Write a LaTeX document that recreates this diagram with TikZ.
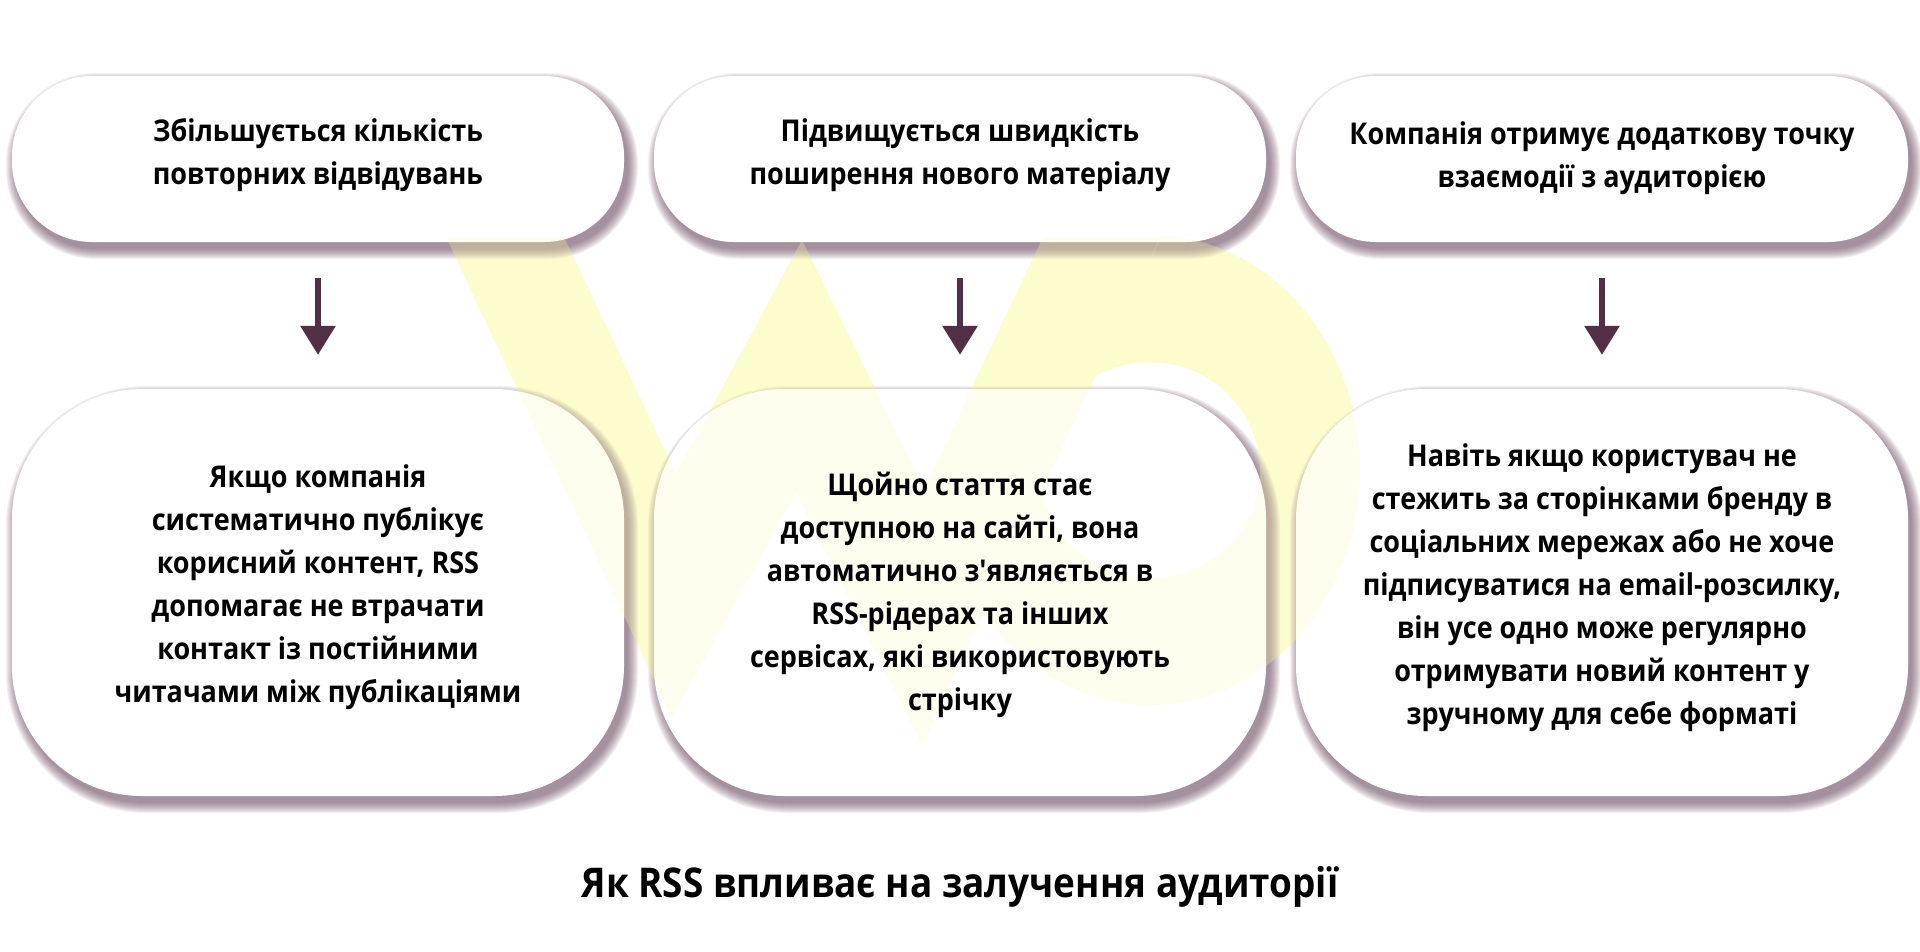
\documentclass[tikz,border=0pt]{standalone}
\usepackage{fontspec}
\setmainfont{Open Sans}[FakeStretch=0.9, Ligatures=TeXOff]
\usetikzlibrary{arrows.meta}
\definecolor{wm}{RGB}{253,252,205}
\definecolor{arrowc}{RGB}{82,47,68}
\definecolor{shadowc}{RGB}{105,70,92}
\newcommand\WaterMark[1]{%
  \fill[wm,#1] (446,237) -- (564,237) -- (676,474) -- (802,240) -- (924,489) -- (1043,237) -- (1161,237) -- (922,745) -- (796,493) -- (672,718) -- cycle;
  \begin{scope}
    \clip (1272,0) -- (1920,0) -- (1920,951) -- (825,951) -- cycle;
    \fill[wm,even odd rule,#1] (1150,470) ellipse [x radius=210, y radius=235] (1150,470) ellipse [x radius=110, y radius=108];
  \end{scope}}
\newcommand\BoxShadow[5]{%
  \foreach \k in {0,...,10}{%
    \pgfmathsetmacro\rr{#5+\k}%
    \fill[shadowc, fill opacity=0.075, rounded corners=\rr pt] ({#1+4-\k},{#2+7-\k}) rectangle ({#3+4+\k},{#4+7+\k});
  }}
\tikzset{
  boxbase/.style={rectangle, fill=white, inner sep=0pt, minimum width=612pt},
  topbox/.style={boxbase, rounded corners=80pt, minimum height=166pt},
  botbox/.style={boxbase, rounded corners=130pt, minimum height=407pt},
  txt/.style={align=center, font=\fontsize{30}{43}\selectfont\bfseries, text=black, inner sep=0pt},
  arr/.style={draw=arrowc, fill=arrowc, line width=6pt, -{Triangle[length=29pt,width=34pt]}, shorten <=36pt, shorten >=34pt}
}
\begin{document}
\begin{tikzpicture}[x=1pt,y=-1pt]
\useasboundingbox (0,0) rectangle (1920,951);
\fill[white] (0,0) rectangle (1920,951);
\WaterMark{}
% shadows
\BoxShadow{12}{76}{624}{242}{80}
\BoxShadow{654}{76}{1266}{242}{80}
\BoxShadow{1296}{76}{1908}{242}{80}
\BoxShadow{12}{389}{624}{796}{130}
\BoxShadow{654}{389}{1266}{796}{130}
\BoxShadow{1296}{389}{1908}{796}{130}
% boxes
\node[topbox] (t1) at (318,159) {};
\node[topbox] (t2) at (960,159) {};
\node[topbox] (t3) at (1602,159) {};
\node[botbox] (b1) at (318,592.5) {};
\node[botbox] (b2) at (960,592.5) {};
\node[botbox] (b3) at (1602,592.5) {};
\WaterMark{fill opacity=0.3}
% texts
\node[txt] (t1x) at (318,155) {Збільшується кількість\\повторних відвідувань};
\node[txt] (t2x) at (960,155) {Підвищується швидкість\\поширення нового матеріалу};
\node[txt] (t3x) at (1602,158) {Компанія отримує додаткову точку\\взаємодії з аудиторією};
\node[txt] (b1x) at (318,587) {Якщо компанія\\систематично публікує\\корисний контент, RSS\\допомагає не втрачати\\контакт із постійними\\читачами між публікаціями};
\node[txt] (b2x) at (960,595) {Щойно стаття стає\\доступною на сайті, вона\\автоматично з'являється в\\RSS-рідерах та інших\\сервісах, які використовують\\стрічку};
\node[txt] (b3x) at (1602,588) {Навіть якщо користувач не\\стежить за сторінками бренду в\\соціальних мережах або не хоче\\підписуватися на email-розсилку,\\він усе одно може регулярно\\отримувати новий контент у\\зручному для себе форматі};
% arrows
\draw[arr] (t1) -- (b1);
\draw[arr] (t2) -- (b2);
\draw[arr] (t3) -- (b3);
% title
\node[font=\fontsize{41}{48}\selectfont\bfseries] (title) at (960,887) {Як RSS впливає на залучення аудиторії};
\end{tikzpicture}
\end{document}
